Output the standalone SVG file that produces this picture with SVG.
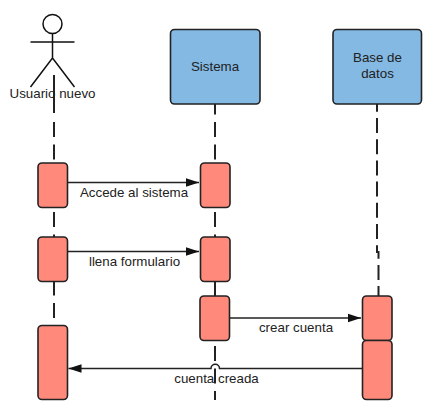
<svg xmlns="http://www.w3.org/2000/svg" width="433" height="417" viewBox="0 0 433 417">
<style>
text{font-family:"Liberation Sans",Arial,sans-serif;font-size:13.330px;fill:#222;text-anchor:middle}
.act{fill:#ff8a7c;stroke:#222;stroke-width:1.6}
.box{fill:#83b9e3;stroke:#222;stroke-width:1.6}
.life{fill:none;stroke:#222;stroke-width:2;stroke-dasharray:15 7.5}
.msg{fill:none;stroke:#222;stroke-width:1.5}
.stick{fill:none;stroke:#111;stroke-width:1.5}
</style>
<defs><marker id="arrow" markerUnits="userSpaceOnUse" markerWidth="14" markerHeight="10" refX="13" refY="5" orient="auto"><path d="M0 .8L13 5L0 9.200Z" fill="#111"/></marker></defs>
<g id="connectors">
<path class="life" d="M54 75V113" style="stroke-dasharray:none"/>
<path class="life" d="M54 122V163" />
<path class="life" d="M54 212V237M54 280.500V325"/>
<path class="life" d="M215 99.500V163M215 212V237M215 281V296M215 346V400"/>
<path class="life" style="stroke-dasharray:15 6.200" d="M377 96.800V252H378.500V296"/>
<path class="msg" marker-end="url(#arrow)" d="M68 182.500H199"/>
<path class="msg" marker-end="url(#arrow)" d="M68 251.500H199"/>
<path class="msg" marker-end="url(#arrow)" d="M230 318H361"/>
<path class="msg" marker-end="url(#arrow)" d="M362 368.500H219.500A4 4 0 0 0 211 368.500H68.500"/>
</g>
<g id="actor">
<circle class="stick" cx="52.500" cy="24" r="9.500"/>
<path class="stick" d="M52.500 33.500V58M30.500 42H74.500M30.500 87L52.500 58L74.500 87"/>
<text x="52.500" y="98">Usuario nuevo</text>
</g>
<g id="sistema"><rect class="box" x="170.500" y="29.500" width="89.500" height="74.500" rx="4"/><text x="215" y="71">Sistema</text></g>
<g id="base"><rect class="box" x="333" y="29.500" width="88.500" height="74.500" rx="4"/><text x="377.500" y="62">Base de</text><text x="377.500" y="78">datos</text></g>
<g id="a1"><rect class="act" x="38" y="163" width="29.500" height="44.500" rx="4"/></g>
<g id="s1"><rect class="act" x="200.500" y="163" width="29.500" height="44.500" rx="4"/></g>
<g id="a2"><rect class="act" x="38" y="237" width="29.500" height="44.500" rx="4"/></g>
<g id="s2"><rect class="act" x="200.500" y="237" width="29.500" height="44.500" rx="4"/></g>
<g id="s3"><rect class="act" x="200" y="296" width="29.500" height="44.500" rx="4"/></g>
<g id="d1"><rect class="act" x="362.500" y="296" width="29.500" height="44.500" rx="4"/></g>
<g id="d2"><rect class="act" x="362.500" y="340.500" width="29.500" height="59" rx="4"/></g>
<g id="a3"><rect class="act" x="38" y="325.500" width="29.500" height="74" rx="4"/></g>
<g id="labels">
<text x="134" y="197">Accede al sistema</text>
<text x="134.500" y="265.500">llena formulario</text>
<text x="296" y="332">crear cuenta</text>
<text x="216.500" y="383">cuenta creada</text>
</g>
</svg>
